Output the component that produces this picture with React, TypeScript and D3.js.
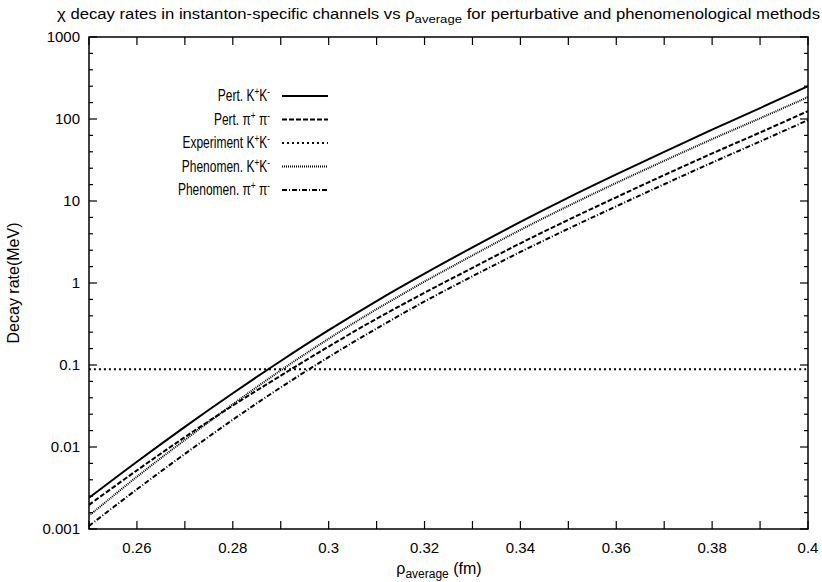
import * as d3 from 'd3';
import React from 'react';

// rho_average (fm) sample points
const rho = [0.25, 0.26, 0.27, 0.28, 0.29, 0.30, 0.31, 0.32, 0.33, 0.34, 0.35, 0.36, 0.37, 0.38, 0.39, 0.40];

// decay rates (MeV)
const pertKK = [0.0024, 0.00661, 0.0176, 0.0452, 0.112, 0.266, 0.603, 1.3, 2.72, 5.56, 11.0, 21.1, 39.8, 74.1, 136, 252];
const pertPiPi = [0.00197, 0.00519, 0.0132, 0.032, 0.0741, 0.168, 0.367, 0.76, 1.53, 3.05, 5.89, 11.1, 20.7, 38.0, 68.4, 125];
const phenKK = [0.00145, 0.00434, 0.0122, 0.0332, 0.0859, 0.209, 0.479, 1.04, 2.17, 4.44, 8.71, 16.6, 30.9, 56.8, 102, 185];
const phenPiPi = [0.00109, 0.00305, 0.00824, 0.0215, 0.0533, 0.125, 0.279, 0.595, 1.21, 2.39, 4.59, 8.61, 16.0, 29.4, 53.2, 97];
const experimentKK = 0.089;

const xTicks = [0.26, 0.28, 0.3, 0.32, 0.34, 0.36, 0.38, 0.4];
const xTickLabels = ['0.26', '0.28', '0.3', '0.32', '0.34', '0.36', '0.38', '0.4'];
const yTicks = [0.001, 0.01, 0.1, 1, 10, 100, 1000];
const yTickLabels = ['0.001', '0.01', '0.1', '1', '10', '100', '1000'];

const W = 822;
const H = 582;
const margin = { top: 37, right: 14, bottom: 53, left: 89 };
const font = '"Liberation Sans", Arial, Helvetica, sans-serif';

const App: React.FC = () => {
  const iw = W - margin.left - margin.right;
  const ih = H - margin.top - margin.bottom;

  const x = d3.scaleLinear().domain([0.25, 0.4]).range([0, iw]);
  const y = d3.scaleLog().domain([0.001, 1000]).range([ih, 0]);

  const line = d3.line<number>()
    .x((_, i) => x(rho[i]))
    .y(d => y(d))
    .curve(d3.curveCatmullRom);

  // gnuplot style minor tics: evenly spaced in log space
  const minor: number[] = [];
  for (let e = -3; e < 3; e++) {
    for (let k = 1; k < 5; k++) minor.push(Math.pow(10, e + k / 5));
  }
  const majorX = d3.range(0.25, 0.4001, 0.01);

  const series = [
    { label: 'Pert. ', part: 'K', values: pertKK, dash: '' },
    { label: 'Pert. ', part: 'pi', values: pertPiPi, dash: '5,2' },
    { label: 'Experiment ', part: 'K', values: rho.map(() => experimentKK), dash: '2,3' },
    { label: 'Phenomen. ', part: 'K', values: phenKK, dash: '1,1' },
    { label: 'Phenomen. ', part: 'pi', values: phenPiPi, dash: '5,2,1,2' },
  ];

  const legendY = [96, 119.5, 143, 166.5, 190];

  return (
    <svg width={W} height={H} style={{ position: 'absolute', left: 0, top: 0, background: '#fff' }}
      fontFamily={font}>
      <defs>
        <clipPath id="plot">
          <rect x={0} y={0} width={iw} height={ih} />
        </clipPath>
      </defs>
      <text x={57} y={19} fontSize={14} textLength={763} lengthAdjust="spacingAndGlyphs">
        χ decay rates in instanton-specific channels vs ρ<tspan fontSize={11} dy={4}>average</tspan>
        <tspan dy={-4}> for perturbative and phenomenological methods</tspan>
      </text>
      <g transform={`translate(${margin.left},${margin.top})`}>
        {/* ticks */}
        {majorX.map((t, i) => (
          <g key={'x' + i}>
            <line x1={x(t)} x2={x(t)} y1={ih} y2={ih - 8} stroke="#000" strokeWidth={1.2} />
            <line x1={x(t)} x2={x(t)} y1={0} y2={8} stroke="#000" strokeWidth={1.2} />
          </g>
        ))}
        {yTicks.map((t, i) => (
          <g key={'y' + i}>
            <line x1={0} x2={8} y1={y(t)} y2={y(t)} stroke="#000" strokeWidth={1.2} />
            <line x1={iw} x2={iw - 8} y1={y(t)} y2={y(t)} stroke="#000" strokeWidth={1.2} />
            <text x={-9} y={y(t) + 5} fontSize={15} textAnchor="end">{yTickLabels[i]}</text>
          </g>
        ))}
        {minor.map((t, i) => (
          <g key={'m' + i}>
            <line x1={0} x2={4} y1={y(t)} y2={y(t)} stroke="#000" strokeWidth={1.2} />
            <line x1={iw} x2={iw - 4} y1={y(t)} y2={y(t)} stroke="#000" strokeWidth={1.2} />
          </g>
        ))}
        {xTicks.map((t, i) => (
          <text key={'xl' + i} x={x(t)} y={ih + 24} fontSize={15} textAnchor="middle">{xTickLabels[i]}</text>
        ))}

        {/* curves */}
        <g clipPath="url(#plot)">
          {series.map((s, i) => (
            <path key={'s' + i} d={line(s.values) || ''} fill="none" stroke="#000"
              strokeWidth={2} strokeDasharray={s.dash || undefined} />
          ))}
        </g>

        {/* legend */}
        {series.map((s, i) => (
          <g key={'l' + i}>
            <g transform={`translate(${270 - margin.left},${legendY[i] - margin.top + 5}) scale(0.75,1)`}>
              <text x={0} y={0} fontSize={16} textAnchor="end">
                {s.label}
                {s.part === 'K' ? (
                  <>K<tspan fontSize={11} dy={-6}>+</tspan><tspan dy={6}>K</tspan><tspan fontSize={11} dy={-6}>-</tspan></>
                ) : (
                  <>π<tspan fontSize={11} dy={-6}>+</tspan><tspan dy={6}> π</tspan><tspan fontSize={11} dy={-6}>-</tspan></>
                )}
              </text>
            </g>
            <line x1={282 - margin.left} x2={328 - margin.left} y1={legendY[i] - margin.top} y2={legendY[i] - margin.top}
              stroke="#000" strokeWidth={2} strokeDasharray={s.dash || undefined} />
          </g>
        ))}

        <rect x={0} y={0} width={iw} height={ih} fill="none" stroke="#000" strokeWidth={1.5} />
      </g>

      <text transform={`translate(19,${margin.top + ih / 2}) rotate(-90)`} fontSize={16} textAnchor="middle">
        Decay rate(MeV)
      </text>
      <text x={439} y={574} fontSize={16} textAnchor="middle">
        ρ<tspan fontSize={12} dy={4}>average</tspan><tspan dy={-4}> (fm)</tspan>
      </text>
    </svg>
  );
};

export default App;
